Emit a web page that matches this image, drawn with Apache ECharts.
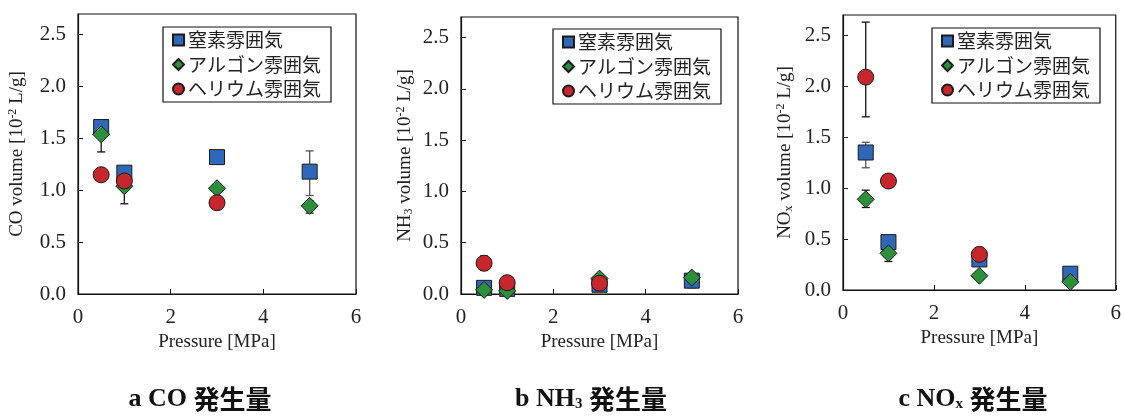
<!DOCTYPE html>
<html><head><meta charset="utf-8">
<script src="https://cdn.jsdelivr.net/npm/echarts@6/dist/echarts.min.js"></script>
<style>html,body{margin:0;padding:0;background:#fff}#c{width:1124px;height:416px}</style>
</head><body><div id="c"></div>
<script>
// ---- data ----
const seriesNames = ['窒素雰囲気', 'アルゴン雰囲気', 'ヘリウム雰囲気'];
const pressure = [0.5, 1, 3, 5];
const pressureHe = [0.5, 1, 3];
const xTicks = [0, 2, 4, 6];
const yTicks = [0, 0.5, 1.0, 1.5, 2.0, 2.5];

// CO volume [10^-2 L/g]
const coN2 = [1.61, 1.17, 1.32, 1.18];
const coAr = [1.54, 1.04, 1.02, 0.85];
const coHe = [1.15, 1.09, 0.88];
const coN2Lo = [null, null, null, 0.95];
const coN2Hi = [null, null, null, 1.38];
const coArLo = [1.37, 0.87, null, 0.78];
const coArHi = [1.62, 1.12, null, 0.90];

// NH3 volume
const nh3N2 = [0.06, 0.05, 0.09, 0.13];
const nh3Ar = [0.04, 0.03, 0.15, 0.16];
const nh3He = [0.30, 0.11, 0.105];
const nh3N2Lo = [null, null, null, 0.06];
const nh3N2Hi = [null, null, null, 0.20];
const nh3HeLo = [0.23, null, null];
const nh3HeHi = [0.37, null, null];

// NOx volume
const noxN2 = [1.35, 0.47, 0.30, 0.16];
const noxAr = [0.89, 0.36, 0.14, 0.08];
const noxHe = [2.09, 1.07, 0.35];
const noxN2Lo = [1.20, null, null, null];
const noxN2Hi = [1.45, null, null, null];
const noxArLo = [0.81, 0.28, null, null];
const noxArHi = [0.98, 0.44, null, null];
const noxHeLo = [1.70, null, null];
const noxHeHi = [2.63, null, null];

// ---- build ----
const serif = "'Liberation Serif','Times New Roman',serif";
const gothic = "'Noto Sans CJK JP','Noto Sans',sans-serif";
const colors = ['#2f68b8', '#2c8f3c', '#c8262d'];
const symbols = ['rect', 'diamond', 'circle'];
const sizes = [15, 17, 16];

const grids = [
  {left: 78, top: 14, width: 278, height: 280},
  {left: 461, top: 17, width: 277, height: 277},
  {left: 843, top: 15, width: 277, height: 275}
];
const yNames = [
  'CO volume [10{sup|-2} L/g]',
  'NH{sub|3} volume [10{sup|-2} L/g]',
  'NO{sub|x} volume [10{sup|-2} L/g]'
];
const yNameGaps = [51, 46, 48];
const panels = [
  {vals: [coN2, coAr, coHe], err: [[coN2Lo, coN2Hi], [coArLo, coArHi], null]},
  {vals: [nh3N2, nh3Ar, nh3He], err: [[nh3N2Lo, nh3N2Hi], null, [nh3HeLo, nh3HeHi]]},
  {vals: [noxN2, noxAr, noxHe], err: [[noxN2Lo, noxN2Hi], [noxArLo, noxArHi], [noxHeLo, noxHeHi]]}
];
const errColors = ['#555', '#111', '#111'];

const xAxis = [], yAxis = [], series = [], legend = [];
grids.forEach((g, i) => {
  g.show = true; g.borderColor = '#111'; g.borderWidth = 1.2; g.backgroundColor = '#fff';
  xAxis.push({
    type: 'value', gridIndex: i, min: xTicks[0], max: xTicks[xTicks.length - 1], interval: 2,
    name: 'Pressure [MPa]', nameLocation: 'middle', nameGap: 34,
    nameTextStyle: {fontFamily: serif, fontSize: 19, color: '#222'},
    axisLine: {show: true, onZero: false, lineStyle: {color: '#111', width: 1.2}},
    axisTick: {show: true, inside: true, length: 5, lineStyle: {color: '#111'}},
    axisLabel: {fontFamily: serif, fontSize: 21, color: '#222', margin: 13},
    splitLine: {show: false}
  });
  yAxis.push({
    type: 'value', gridIndex: i, min: 0, max: 2.7, interval: 0.5,
    name: yNames[i], nameLocation: 'middle', nameGap: yNameGaps[i], nameRotate: 90,
    nameTextStyle: {fontFamily: serif, fontSize: 19, color: '#222',
      rich: {
        sup: {fontFamily: serif, fontSize: 12, color: '#222', verticalAlign: 'top', padding: [0, 0, 8, 0]},
        sub: {fontFamily: serif, fontSize: 12, color: '#222', verticalAlign: 'bottom', padding: [8, 0, 0, 0]}
      }},
    axisLine: {show: true, lineStyle: {color: '#111', width: 1.2}},
    axisTick: {show: true, inside: true, length: 5, lineStyle: {color: '#111'}},
    axisLabel: {fontFamily: serif, fontSize: 21, color: '#222', margin: 12, showMaxLabel: false,
      formatter: v => yTicks.indexOf(v) >= 0 ? v.toFixed(1) : ''},
    splitLine: {show: false}
  });
  const p = panels[i];
  // error bars
  p.err.forEach((e, s) => {
    if (!e) return;
    const xs = s === 2 ? pressureHe : pressure;
    const data = [];
    xs.forEach((x, k) => { if (e[0][k] != null) data.push([x, e[0][k], e[1][k]]); });
    const col = errColors[s];
    series.push({
      type: 'custom', xAxisIndex: i, yAxisIndex: i, z: 1, silent: true,
      encode: {x: 0, y: [1, 2]},
      data: data,
      renderItem: (params, api) => {
        const x = api.value(0);
        const a = api.coord([x, api.value(1)]);
        const b = api.coord([x, api.value(2)]);
        const w = 4;
        const st = {stroke: col, lineWidth: 1.3};
        return {type: 'group', children: [
          {type: 'line', shape: {x1: a[0], y1: a[1], x2: b[0], y2: b[1]}, style: st},
          {type: 'line', shape: {x1: a[0] - w, y1: a[1], x2: a[0] + w, y2: a[1]}, style: st},
          {type: 'line', shape: {x1: b[0] - w, y1: b[1], x2: b[0] + w, y2: b[1]}, style: st}
        ]};
      }
    });
  });
  p.vals.forEach((v, s) => {
    const xs = s === 2 ? pressureHe : pressure;
    series.push({
      type: 'scatter', name: seriesNames[s], xAxisIndex: i, yAxisIndex: i, z: 3 + s,
      symbol: symbols[s], symbolSize: sizes[s],
      itemStyle: {color: colors[s], borderColor: '#1a1a1a', borderWidth: 1, opacity: 1},
      data: xs.map((x, k) => [x, v[k]])
    });
  });
  legend.push({
    data: seriesNames, orient: 'vertical',
    left: [163, 553, 932][i], top: [27, 29, 28][i],
    backgroundColor: '#fff', borderColor: '#111', borderWidth: 1.2,
    padding: [2, 10, 2, 9], itemGap: 2.5, itemWidth: 11, itemHeight: 11,
    textStyle: {fontFamily: gothic, fontSize: 19, color: '#222', lineHeight: 22, padding: [0, 0, 0, -1]},
    selectedMode: false
  });
});

const capRich = {
  j: {fontFamily: gothic, fontWeight: 'bold', fontSize: 26, color: '#111'},
  sub: {fontFamily: serif, fontWeight: 'bold', fontSize: 15, color: '#111', verticalAlign: 'bottom', padding: [10, 0, 0, 0]}
};
const captions = [
  {text: 'a CO {j|発生量}', x: 195},
  {text: 'b NH{sub|3} {j|発生量}', x: 586},
  {text: 'c NO{sub|x} {j|発生量}', x: 968}
];
const title = captions.map(c => ({
  text: c.text, left: c.x, top: 381, textAlign: 'center',
  textStyle: {fontFamily: serif, fontWeight: 'bold', fontSize: 26, color: '#111', rich: capRich}
}));

const chart = echarts.init(document.getElementById('c'), null, {renderer: 'canvas'});
chart.setOption({
  animation: false, backgroundColor: '#fff',
  title, grid: grids, xAxis, yAxis, series, legend
});
</script></body></html>
